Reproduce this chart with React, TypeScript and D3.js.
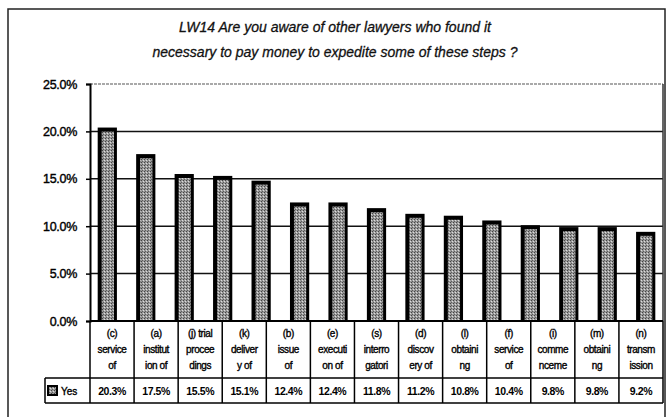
import React, { useEffect, useRef } from 'react';
import * as d3 from 'd3';

const titleLines = [
  'LW14 Are you aware of other lawyers who found it',
  'necessary to pay money to expedite some of these steps ?',
];

// bar heights as they appear in the plot (15 bars)
const barValues = [0.203, 0.175, 0.154, 0.152, 0.147, 0.124, 0.124, 0.118, 0.112, 0.110, 0.105, 0.100, 0.098, 0.098, 0.093];

// data table under the plot (13 columns)
const categories = [
  ['(c)', 'service', 'of'],
  ['(a)', 'institut', 'ion of'],
  ['(j) trial', 'procee', 'dings'],
  ['(k)', 'deliver', 'y of'],
  ['(b)', 'issue', 'of'],
  ['(e)', 'executi', 'on of'],
  ['(s)', 'interro', 'gatori'],
  ['(d)', 'discov', 'ery of'],
  ['(l)', 'obtaini', 'ng'],
  ['(f)', 'service', 'of'],
  ['(i)', 'comme', 'nceme'],
  ['(m)', 'obtaini', 'ng'],
  ['(n)', 'transm', 'ission'],
];
const tableValues = ['20.3%', '17.5%', '15.5%', '15.1%', '12.4%', '12.4%', '11.8%', '11.2%', '10.8%', '10.4%', '9.8%', '9.8%', '9.2%'];
const seriesName = 'Yes';
const yTicks = [0, 0.05, 0.1, 0.15, 0.2, 0.25];

function App() {
  const svgRef = useRef<SVGSVGElement>(null);

  useEffect(() => {
    if (!svgRef.current) return;
    const svg = d3.select(svgRef.current);
    svg.selectAll('*').remove();

    const font = "'Liberation Sans', Arial, sans-serif";
    const left = 90, right = 663, top = 84, bottom = 321;

    // stipple fill like the scanned bars
    const pat = svg.append('defs').append('pattern')
      .attr('id', 'stip').attr('width', 3).attr('height', 3)
      .attr('patternUnits', 'userSpaceOnUse');
    pat.append('rect').attr('width', 3).attr('height', 3).attr('fill', '#9a9a9a');
    pat.append('rect').attr('x', 0).attr('y', 0).attr('width', 1).attr('height', 1).attr('fill', '#444');
    pat.append('rect').attr('x', 2).attr('y', 1).attr('width', 1).attr('height', 1).attr('fill', '#dcdcdc');
    pat.append('rect').attr('x', 1).attr('y', 2).attr('width', 1).attr('height', 1).attr('fill', '#5e5e5e');

    // outer chart border
    svg.append('rect')
      .attr('x', 8).attr('y', 9).attr('width', 657).attr('height', 420)
      .attr('fill', 'white').attr('stroke', '#222').attr('stroke-width', 1.5);

    // title
    svg.append('g').selectAll('text').data(titleLines).join('text')
      .attr('x', 335).attr('y', (d, i) => 32 + i * 25)
      .attr('text-anchor', 'middle')
      .attr('font-family', font).attr('font-style', 'italic')
      .attr('font-size', 14).attr('fill', '#111')
      .attr('stroke', '#111').attr('stroke-width', 0.3)
      .text(d => d);

    const yScale = d3.scaleLinear().domain([0, 0.25]).range([bottom, top]);

    // gridlines
    svg.append('g').selectAll('line').data(yTicks.filter(t => t > 0 && t < 0.25)).join('line')
      .attr('x1', left).attr('x2', right)
      .attr('y1', d => yScale(d)).attr('y2', d => yScale(d))
      .attr('stroke', '#111').attr('stroke-width', 1.5);

    // plot area border (top + right)
    svg.append('path')
      .attr('d', `M${left},${top}H${right}`)
      .attr('fill', 'none').attr('stroke', '#555').attr('stroke-width', 1.2)
      .attr('stroke-dasharray', '3,1');
    svg.append('path')
      .attr('d', `M${right},${top}V${bottom}`)
      .attr('fill', 'none').attr('stroke', '#333').attr('stroke-width', 1.5);

    // y axis
    const yAxis = svg.append('g')
      .attr('transform', `translate(${left},0)`)
      .call(d3.axisLeft(yScale).tickValues(yTicks).tickFormat(d3.format('.1%')).tickSize(4));
    yAxis.select('.domain').attr('stroke', '#000').attr('stroke-width', 2);
    yAxis.selectAll('.tick line').attr('stroke', '#000').attr('stroke-width', 1.5);
    yAxis.selectAll('.tick text')
      .attr('font-family', font).attr('font-size', 12.5).attr('fill', '#000')
      .attr('stroke', '#000').attr('stroke-width', 0.4)
      .attr('x', -13).style('letter-spacing', '-0.3px');

    // bars
    const xBars = d3.scaleBand<number>().domain(d3.range(barValues.length))
      .range([left, right]).paddingInner(0.5).paddingOuter(0.2);
    const bw = xBars.bandwidth();
    const bars = svg.append('g');
    bars.selectAll('rect.outer').data(barValues).join('rect')
      .attr('class', 'outer')
      .attr('x', (d, i) => xBars(i)!).attr('y', d => yScale(d) - 1)
      .attr('width', bw).attr('height', d => bottom - yScale(d) + 1)
      .attr('fill', '#000');
    bars.selectAll('rect.inner').data(barValues).join('rect')
      .attr('class', 'inner')
      .attr('x', (d, i) => xBars(i)! + 4).attr('y', d => yScale(d) + 3)
      .attr('width', bw - 7).attr('height', d => bottom - yScale(d) - 4)
      .attr('fill', 'url(#stip)');

    // data table
    const xTab = d3.scaleBand<number>().domain(d3.range(categories.length)).range([left, right]);
    const rowTop = bottom, rowMid = 378, rowBot = 403, legendLeft = 45;
    const tab = svg.append('g');
    tab.append('line').attr('x1', left).attr('x2', right).attr('y1', rowTop).attr('y2', rowTop)
      .attr('stroke', '#000').attr('stroke-width', 2);
    tab.append('line').attr('x1', legendLeft).attr('x2', right).attr('y1', rowMid).attr('y2', rowMid)
      .attr('stroke', '#000').attr('stroke-width', 1.5);
    tab.append('line').attr('x1', legendLeft).attr('x2', right).attr('y1', rowBot).attr('y2', rowBot)
      .attr('stroke', '#000').attr('stroke-width', 1.5);
    const edges = d3.range(categories.length + 1).map(i => left + i * xTab.step());
    tab.selectAll('line.v').data(edges).join('line')
      .attr('class', 'v')
      .attr('x1', d => d).attr('x2', d => d).attr('y1', rowTop).attr('y2', rowBot)
      .attr('stroke', '#000').attr('stroke-width', 1.5);
    tab.append('line').attr('x1', legendLeft).attr('x2', legendLeft).attr('y1', rowMid).attr('y2', rowBot)
      .attr('stroke', '#000').attr('stroke-width', 1.5);

    categories.forEach((lines, i) => {
      tab.append('g').selectAll('text').data(lines).join('text')
        .attr('x', xTab(i)! + xTab.bandwidth() / 2)
        .attr('y', (d, j) => 337 + j * 16)
        .attr('text-anchor', 'middle')
        .attr('font-family', font).attr('font-size', 10).attr('fill', '#000')
        .attr('stroke', '#000').attr('stroke-width', 0.35)
        .style('letter-spacing', '-0.4px')
        .text(d => d);
    });
    tab.selectAll('text.val').data(tableValues).join('text')
      .attr('class', 'val')
      .attr('x', (d, i) => xTab(i)! + xTab.bandwidth() / 2)
      .attr('y', 395)
      .attr('text-anchor', 'middle')
      .attr('font-family', font).attr('font-size', 10.5).attr('font-weight', 'bold').attr('fill', '#000')
      .style('letter-spacing', '-0.4px')
      .text(d => d);

    // legend key in the table
    tab.append('rect').attr('x', 48).attr('y', 386).attr('width', 9).attr('height', 9)
      .attr('fill', 'url(#stip)').attr('stroke', '#000').attr('stroke-width', 2);
    tab.append('text').attr('x', 61).attr('y', 395)
      .attr('font-family', font).attr('font-size', 10).attr('fill', '#000')
      .attr('stroke', '#000').attr('stroke-width', 0.35)
      .text(seriesName);
  }, []);

  return (
    <svg ref={svgRef} width={669} height={417}
      style={{ position: 'absolute', left: 0, top: 0, background: 'white' }} />
  );
}

export default App;
